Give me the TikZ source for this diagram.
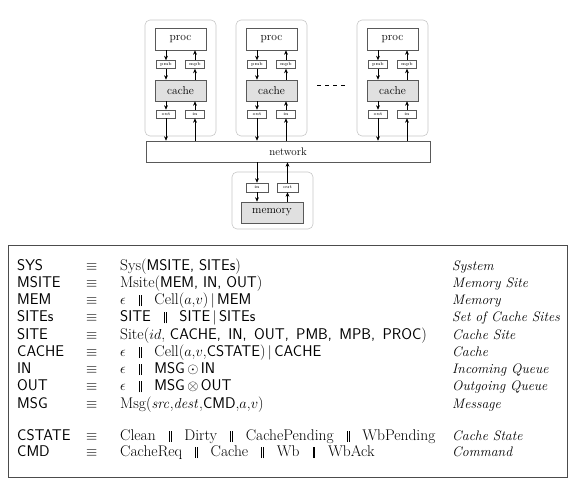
\documentclass[tikz,border=0pt]{standalone}
\usetikzlibrary{arrows.meta}
\newcommand\brk{\hspace{0.85em}\rule[-1.5pt]{0.6pt}{11pt}\kern1pt\rule[-1.5pt]{0.6pt}{11pt}\hspace{0.85em}}
\newcommand\vb{$\,|\,$}
\newcommand\trow[5]{%
  \node[anchor=base west,tt] (#1a) at (17,#2) {\sffamily #3};
  \node[anchor=base west,tt] (#1b) at (86,#2) {$\equiv$};
  \node[anchor=base west,tt] (#1c) at (120,#2) {#4};
  \node[anchor=base west,tt, font=\fontsize{13.8}{16}\selectfont\itshape] (#1d) at (452,#2) {#5};}
\begin{document}
\begin{tikzpicture}[x=1pt,y=-1pt,
  site/.style={draw=black!22, rounded corners=5pt, line width=0.6pt, inner sep=0},
  bigbox/.style={draw=black!65, fill=white, line width=0.5pt, inner sep=0, font=\fontsize{11.5}{12}\selectfont},
  cachebox/.style={bigbox, fill=black!12},
  smallbox/.style={draw=black!65, fill=white, line width=0.5pt, inner sep=0, minimum width=19pt, minimum height=8pt, font=\fontsize{4.5}{5}\selectfont},
  arr/.style={-{Stealth[length=4.5pt,width=3.8pt]}, line width=0.55pt},
  tt/.style={inner sep=0, font=\fontsize{15.5}{18}\selectfont}]
\useasboundingbox (0,0) rectangle (577,489);
% network
\node[bigbox, minimum width=284pt, minimum height=21pt, font=\fontsize{11}{12}\selectfont] (net) at (288,151.5) {network};
% sites
\foreach \i/\dx in {1/0,2/91,3/212}{
  \node[site, minimum width=71pt, minimum height=116pt] (site\i) at (180.5+\dx,78) {};
  \node[bigbox, minimum width=51pt, minimum height=22pt] (proc\i) at (180.5+\dx,39) {proc};
  \node[smallbox] (pmb\i) at (166+\dx,64.5) {pmb};
  \node[smallbox] (mpb\i) at (195+\dx,64.5) {mpb};
  \node[cachebox, minimum width=51pt, minimum height=21pt] (cache\i) at (180.5+\dx,90.5) {cache};
  \node[smallbox] (out\i) at (166+\dx,114) {out};
  \node[smallbox] (in\i) at (195+\dx,114) {in};
  \draw[arr] (pmb\i.north |- proc\i.south) -- (pmb\i.north);
  \draw[arr] (pmb\i.south) -- (pmb\i.south |- cache\i.north);
  \draw[arr] (mpb\i.north) -- (mpb\i.north |- proc\i.south);
  \draw[arr] (mpb\i.south |- cache\i.north) -- (mpb\i.south);
  \draw[arr] (out\i.north |- cache\i.south) -- (out\i.north);
  \draw[arr] (out\i.south) -- (out\i.south |- net.north);
  \draw[arr] (in\i.north) -- (in\i.north |- cache\i.south);
  \draw[arr] (in\i.south |- net.north) -- (in\i.south);
}
\coordinate (d1) at (317,85);
\coordinate (d2) at (348,85);
\draw[dash pattern=on 4pt off 4pt, line width=0.6pt] (d1) -- (d2);
% memory site
\node[site, minimum width=81pt, minimum height=57pt] (msite) at (272.5,200.5) {};
\node[smallbox, minimum width=22pt, minimum height=9pt] (min) at (257,187.5) {in};
\node[smallbox, minimum width=21pt, minimum height=9pt] (mout) at (287.5,187.5) {out};
\node[cachebox, minimum width=62pt, minimum height=21pt] (mem) at (272,212.5) {memory};
\draw[arr] (min.north |- net.south) -- (min.north);
\draw[arr] (min.south) -- (min.south |- mem.north);
\draw[arr] (mout.south |- mem.north) -- (mout.south);
\draw[arr] (mout.north) -- (mout.north |- net.south);
% table
\draw[black!70, line width=0.7pt] (8,245) rectangle (567,477);
\trow{r1}{270}{SYS}{Sys(\textsf{MSITE, SITEs})}{System}
\trow{r2}{287.25}{MSITE}{Msite(\textsf{MEM, IN, OUT})}{Memory Site}
\trow{r3}{304.5}{MEM}{$\epsilon$\brk Cell($a$,$v$)\vb\textsf{MEM}}{Memory}
\trow{r4}{321.75}{SITEs}{\textsf{SITE}\brk\textsf{SITE}\vb\textsf{SITEs}}{Set of Cache Sites}
\trow{r5}{339}{SITE}{Site($id$, \textsf{CACHE,\, IN,\, OUT,\, PMB,\, MPB,\, PROC})}{Cache Site}
\trow{r6}{356.25}{CACHE}{$\epsilon$\brk Cell($a$,$v$,\textsf{CSTATE})\vb\textsf{CACHE}}{Cache}
\trow{r7}{373.5}{IN}{$\epsilon$\brk\textsf{MSG}$\,\odot\,$\textsf{IN}}{Incoming Queue}
\trow{r8}{390.75}{OUT}{$\epsilon$\brk\textsf{MSG}$\,\otimes\,$\textsf{OUT}}{Outgoing Queue}
\trow{r9}{408}{MSG}{Msg($\mathit{src}$,$\mathit{dest}$,\textsf{CMD},$a$,$v$)}{Message}
\trow{r10}{440}{CSTATE}{Clean\brk Dirty\brk CachePending\brk WbPending}{Cache State}
\trow{r11}{456.5}{CMD}{CacheReq\brk Cache\brk Wb\brk WbAck}{Command}
\end{tikzpicture}
\end{document}
